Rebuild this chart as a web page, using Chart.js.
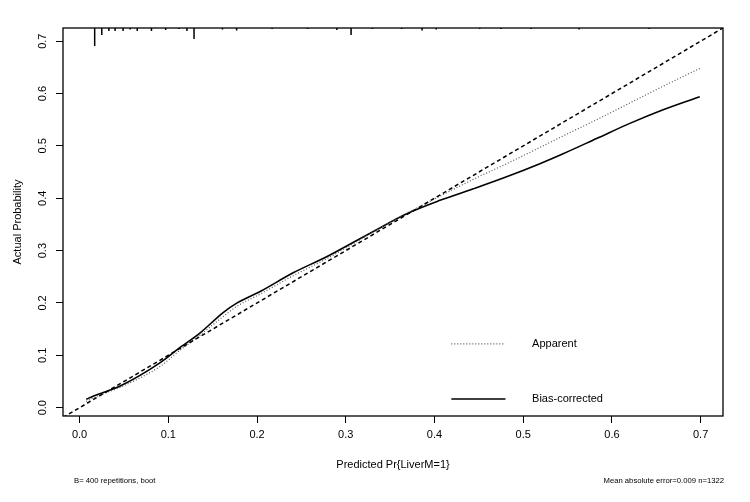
<!DOCTYPE html>
<html>
<head>
<meta charset="utf-8">
<script src="https://cdn.jsdelivr.net/npm/chart.js@4.4.1/dist/chart.umd.min.js"></script>
<style>
  html, body { margin: 0; padding: 0; background: #fff; }
  #wrap { width: 750px; height: 502px; }
</style>
</head>
<body>
<div id="wrap"><canvas id="chart" width="750" height="502"></canvas></div>
<script>
const FONT = "'Liberation Sans', Arial, sans-serif";

// axis limits (R-style 4% extension)
const X_MIN = -0.0187, X_MAX = 0.7252;
const Y_MIN = -0.0159, Y_MAX = 0.7252;
const tickValues = [0, 0.1, 0.2, 0.3, 0.4, 0.5, 0.6, 0.7];

// calibration curves
const predicted = [0.0075, 0.0158, 0.0458, 0.0909, 0.1111, 0.1359, 0.1618, 0.1776, 0.2035,
  0.2407, 0.2790, 0.3082, 0.3311, 0.3687, 0.4062, 0.4437, 0.4813, 0.5188, 0.5450,
  0.5827, 0.6202, 0.6577, 0.6990];
const apparent = [0.012, 0.019, 0.039, 0.079, 0.107, 0.139, 0.174, 0.194, 0.217,
  0.252, 0.285, 0.313, 0.336, 0.371, 0.404, 0.436, 0.466, 0.497, 0.519,
  0.550, 0.582, 0.614, 0.648];
const biasCorrected = [0.0161, 0.0224, 0.0415, 0.0861, 0.1123, 0.1429, 0.1817, 0.2002, 0.2218,
  0.2576, 0.2888, 0.3156, 0.3366, 0.3704, 0.396, 0.418, 0.441, 0.466, 0.485,
  0.514, 0.543, 0.569, 0.594];

// rug of predicted values along the top (position, tick length in probability units)
const rugX = [0.017, 0.025, 0.033, 0.040, 0.049, 0.057, 0.065, 0.081, 0.097, 0.112, 0.121,
  0.129, 0.161, 0.177, 0.217, 0.257, 0.290, 0.306, 0.330, 0.363, 0.386, 0.402, 0.451,
  0.475, 0.509, 0.563, 0.642];
const rugLen = [0.0344, 0.0134, 0.0057, 0.0057, 0.0057, 0.0029, 0.0057, 0.0057, 0.0038, 0.0019, 0.0057,
  0.021, 0.0029, 0.0048, 0.0019, 0.0019, 0.0038, 0.0134, 0.0019, 0.0019, 0.0048, 0.0029, 0.0019,
  0.0019, 0.0019, 0.0029, 0.0019];

const noteLeft = "B= 400 repetitions, boot";
const noteRight = "Mean absolute error=0.009 n=1322";

const rugData = [];
rugX.forEach((x, i) => {
  rugData.push({ x, y: Y_MAX }, { x, y: Y_MAX - rugLen[i] }, { x, y: null });
});

const framePlugin = {
  id: "frame",
  afterDraw(chart) {
    const { ctx, chartArea: a, scales } = chart;
    ctx.save();
    ctx.strokeStyle = "#000";
    ctx.lineWidth = 1.3;
    ctx.strokeRect(a.left, a.top, a.right - a.left, a.bottom - a.top);

    // legend inside the plot, placed in data units
    const x0 = scales.x.getPixelForValue(0.419);
    const x1 = scales.x.getPixelForValue(0.48);
    const xt = scales.x.getPixelForValue(0.51);
    const items = [
      { y: 0.122, label: "Apparent", color: "#555", dash: [1, 2], width: 1.2 },
      { y: 0.0166, label: "Bias-corrected", color: "#000", dash: [], width: 1.6 },
    ];
    ctx.font = `11px ${FONT}`;
    ctx.textBaseline = "middle";
    ctx.textAlign = "left";
    items.forEach((it) => {
      const py = scales.y.getPixelForValue(it.y);
      ctx.strokeStyle = it.color;
      ctx.lineWidth = it.width;
      ctx.setLineDash(it.dash);
      ctx.beginPath();
      ctx.moveTo(x0, py);
      ctx.lineTo(x1, py);
      ctx.stroke();
      ctx.fillStyle = "#000";
      ctx.fillText(it.label, xt, py);
    });
    ctx.setLineDash([]);

    ctx.font = `7.7px ${FONT}`;
    ctx.fillStyle = "#000";
    ctx.textAlign = "left";
    ctx.fillText(noteLeft, 74, 481);
    ctx.textAlign = "right";
    ctx.fillText(noteRight, 724, 481);
    ctx.restore();
  },
};

const axisTicks = (scale) => {
  scale.ticks = tickValues.map((v) => ({ value: v }));
};

new Chart(document.getElementById("chart"), {
  type: "line",
  data: {
    datasets: [
      {
        label: "Ideal",
        data: [{ x: X_MIN, y: X_MIN }, { x: X_MAX, y: X_MAX }],
        borderColor: "#000",
        borderWidth: 1.5,
        borderDash: [4, 3],
        pointRadius: 0,
      },
      {
        label: "Apparent",
        data: predicted.map((x, i) => ({ x, y: apparent[i] })),
        borderColor: "#555",
        borderWidth: 1.2,
        borderDash: [1, 2],
        pointRadius: 0,
        cubicInterpolationMode: "monotone",
      },
      {
        label: "Bias-corrected",
        data: predicted.map((x, i) => ({ x, y: biasCorrected[i] })),
        borderColor: "#000",
        borderWidth: 1.6,
        pointRadius: 0,
        cubicInterpolationMode: "monotone",
      },
      {
        label: "Rug",
        data: rugData,
        borderColor: "#000",
        borderWidth: 1.5,
        pointRadius: 0,
        spanGaps: false,
      },
    ],
  },
  options: {
    responsive: false,
    animation: false,
    events: [],
    layout: { padding: { top: 28, right: 27, left: 0, bottom: 0 } },
    plugins: {
      legend: { display: false },
      tooltip: { enabled: false },
    },
    scales: {
      x: {
        type: "linear",
        min: X_MIN,
        max: X_MAX,
        afterBuildTicks: axisTicks,
        afterFit: (s) => { s.height = 86; },
        ticks: {
          callback: (v) => Number(v).toFixed(1),
          color: "#000",
          font: { family: FONT, size: 11 },
          padding: 5,
          maxRotation: 0,
          autoSkip: false,
        },
        grid: { display: true, drawOnChartArea: false, drawTicks: true, tickLength: 7, color: "#000" },
        border: { display: false },
        title: {
          display: true,
          text: "Predicted Pr{LiverM=1}",
          color: "#000",
          font: { family: FONT, size: 11 },
          padding: { top: 0, bottom: 30 },
        },
      },
      y: {
        type: "linear",
        min: Y_MIN,
        max: Y_MAX,
        afterBuildTicks: axisTicks,
        afterFit: (s) => { s.width = 63; },
        ticks: {
          callback: (v) => Number(v).toFixed(1),
          color: "#000",
          font: { family: FONT, size: 11 },
          padding: 5,
          minRotation: 90,
          maxRotation: 90,
          crossAlign: "center",
          autoSkip: false,
        },
        grid: { display: true, drawOnChartArea: false, drawTicks: true, tickLength: 7, color: "#000" },
        border: { display: false },
        title: {
          display: true,
          text: "Actual Probability",
          color: "#000",
          font: { family: FONT, size: 11 },
          padding: { top: 11, bottom: 0 },
        },
      },
    },
  },
  plugins: [framePlugin],
});
</script>
</body>
</html>
